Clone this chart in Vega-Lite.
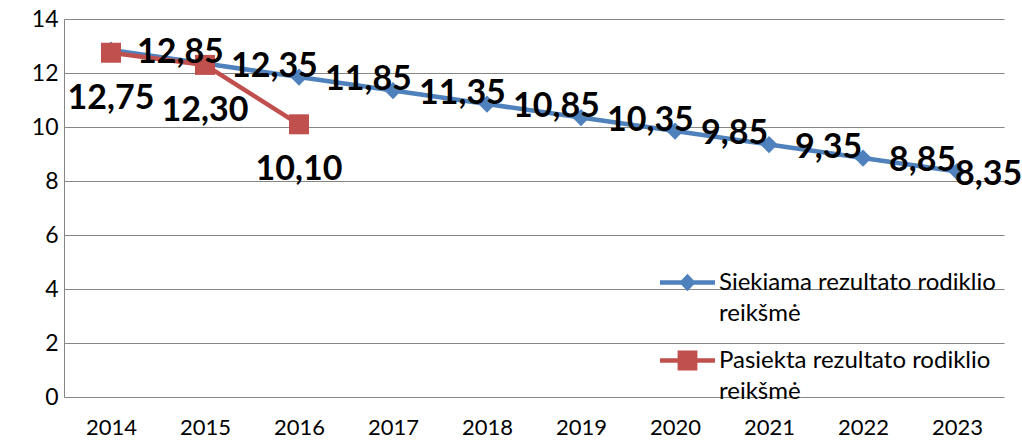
{
  "$schema": "https://vega.github.io/schema/vega-lite/v6.json",
  "autosize": {"type": "none"},
  "padding": {"left": 64, "top": 19, "right": 18, "bottom": 44},
  "width": 940,
  "height": 378,
  "config": {
    "view": {"stroke": null},
    "font": "Lato",
    "locale": {"number": {"decimal": ",", "thousands": " ", "grouping": [3], "currency": ["", " €"]}},
    "axis": {"labelFont": "Lato", "labelFontSize": 23, "labelColor": "#000000", "ticks": false, "domainColor": "#868686", "gridColor": "#868686", "title": null}
  },
  "data": {
    "values": [
      {"year": "2014", "series": "Siekiama rezultato rodiklio reikšmė", "value": 12.85},
      {"year": "2015", "series": "Siekiama rezultato rodiklio reikšmė", "value": 12.35},
      {"year": "2016", "series": "Siekiama rezultato rodiklio reikšmė", "value": 11.85},
      {"year": "2017", "series": "Siekiama rezultato rodiklio reikšmė", "value": 11.35},
      {"year": "2018", "series": "Siekiama rezultato rodiklio reikšmė", "value": 10.85},
      {"year": "2019", "series": "Siekiama rezultato rodiklio reikšmė", "value": 10.35},
      {"year": "2020", "series": "Siekiama rezultato rodiklio reikšmė", "value": 9.85},
      {"year": "2021", "series": "Siekiama rezultato rodiklio reikšmė", "value": 9.35},
      {"year": "2022", "series": "Siekiama rezultato rodiklio reikšmė", "value": 8.85},
      {"year": "2023", "series": "Siekiama rezultato rodiklio reikšmė", "value": 8.35},
      {"year": "2014", "series": "Pasiekta rezultato rodiklio reikšmė", "value": 12.75},
      {"year": "2015", "series": "Pasiekta rezultato rodiklio reikšmė", "value": 12.30},
      {"year": "2016", "series": "Pasiekta rezultato rodiklio reikšmė", "value": 10.10}
    ]
  },
  "encoding": {
    "x": {"field": "year", "type": "ordinal", "scale": {"type": "point", "padding": 0.5},
          "axis": {"labelAngle": 0, "labelBaseline": "alphabetic", "labelPadding": 37, "labelFontSize": 22, "grid": false, "domain": false}},
    "y": {"field": "value", "type": "quantitative", "scale": {"domain": [0, 14], "nice": false, "zero": true},
          "axis": {"values": [0, 2, 4, 6, 8, 10, 12, 14], "grid": true, "labelPadding": 6, "domain": true}}
  },
  "layer": [
    {
      "mark": {"type": "line", "strokeWidth": 4.5},
      "encoding": {
        "color": {
          "field": "series", "type": "nominal",
          "scale": {"domain": ["Siekiama rezultato rodiklio reikšmė", "Pasiekta rezultato rodiklio reikšmė"], "range": ["#4f81bd", "#c0504d"]},
          "sort": null,
          "legend": {
            "orient": "none", "legendX": 596, "legendY": 236, "title": null,
            "labelFont": "Lato", "labelFontSize": 24, "labelColor": "#000000", "labelLimit": 0,
            "labelOffset": 4, "symbolSize": 3025, "rowPadding": 7, "padding": 0,
            "labelExpr": "datum.label == 'Siekiama rezultato rodiklio reikšmė' ? ['Siekiama rezultato rodiklio', 'reikšmė'] : ['Pasiekta rezultato rodiklio', 'reikšmė']",
            "encode": {
              "labels": {"update": {"lineHeight": {"value": 31}}},
              "symbols": {"update": {
                "shape": {"signal": "datum.value == 'Siekiama rezultato rodiklio reikšmė' ? 'M-1,-0.08L1,-0.08L1,0.08L-1,0.08Z M0,-0.32L0.3,0L0,0.32L-0.3,0Z' : 'M-1,-0.08L1,-0.08L1,0.08L-1,0.08Z M-0.36,-0.36L0.36,-0.36L0.36,0.36L-0.36,0.36Z'"},
                "fill": {"signal": "datum.value == 'Siekiama rezultato rodiklio reikšmė' ? '#4f81bd' : '#c0504d'"},
                "fillOpacity": {"value": 1},
                "stroke": {"value": null},
                "strokeWidth": {"value": 0},
                "size": {"value": 3025}
              }}
            }
          }
        }
      }
    },
    {
      "transform": [{"filter": "datum.series == 'Siekiama rezultato rodiklio reikšmė'"}],
      "mark": {"type": "point", "filled": true, "opacity": 1, "shape": "diamond", "size": 300, "color": "#4f81bd"}
    },
    {
      "transform": [{"filter": "datum.series == 'Pasiekta rezultato rodiklio reikšmė'"}],
      "mark": {"type": "point", "filled": true, "opacity": 1, "shape": "square", "size": 400, "color": "#c0504d"}
    },
    {
      "transform": [{"filter": "datum.series == 'Siekiama rezultato rodiklio reikšmė' && datum.year != '2023'"}],
      "mark": {"type": "text", "align": "left", "baseline": "middle", "dx": 26, "dy": 3, "font": "Lato", "fontSize": 34, "fontWeight": "bold", "color": "#000000"},
      "encoding": {"text": {"field": "value", "type": "quantitative", "format": ".2f"}}
    },
    {
      "transform": [{"filter": "datum.series == 'Siekiama rezultato rodiklio reikšmė' && datum.year == '2023'"}],
      "mark": {"type": "text", "align": "left", "baseline": "middle", "dx": -2, "dy": 3, "font": "Lato", "fontSize": 34, "fontWeight": "bold", "color": "#000000"},
      "encoding": {"text": {"field": "value", "type": "quantitative", "format": ".2f"}}
    },
    {
      "transform": [{"filter": "datum.series == 'Pasiekta rezultato rodiklio reikšmė'"}],
      "mark": {"type": "text", "align": "center", "baseline": "middle", "dy": 46, "font": "Lato", "fontSize": 34, "fontWeight": "bold", "color": "#000000"},
      "encoding": {"text": {"field": "value", "type": "quantitative", "format": ".2f"}}
    }
  ]
}
